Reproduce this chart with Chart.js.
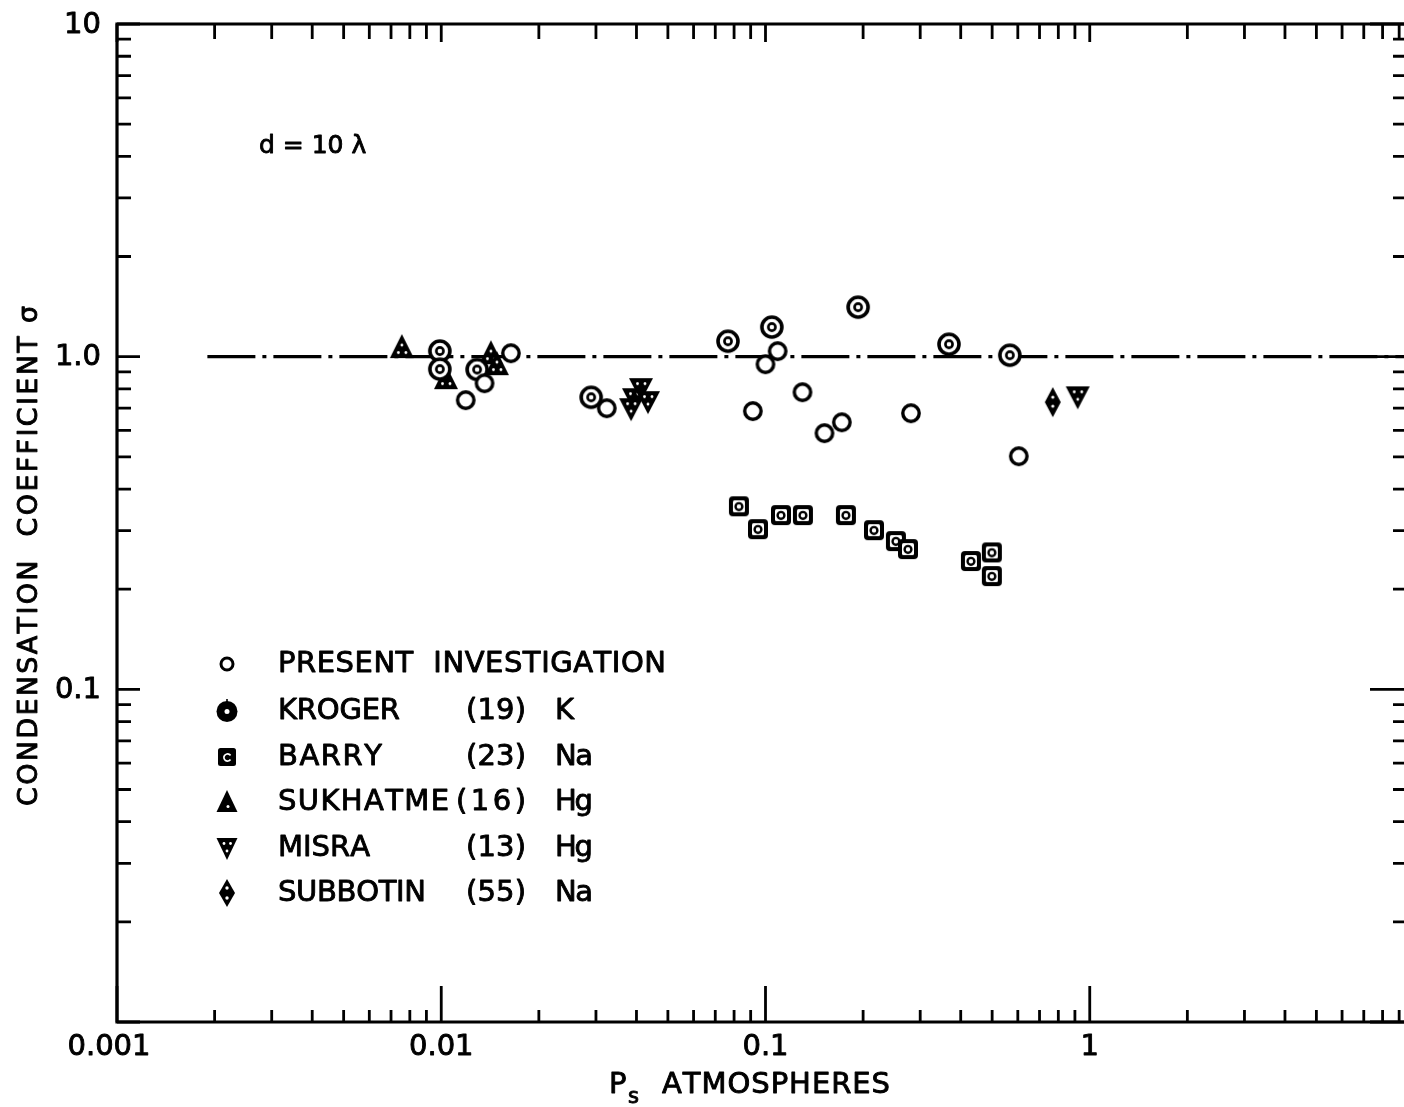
<!DOCTYPE html>
<html>
<head>
<meta charset="utf-8">
<script src="https://cdn.jsdelivr.net/npm/chart.js@4/dist/chart.umd.min.js"></script>
<style>
  html, body { margin: 0; padding: 0; background: #fff; overflow: hidden; }
  #wrap { position: absolute; left: 0; top: 0; width: 1404px; height: 1107px; overflow: hidden; }
  canvas { display: block; }
</style>
</head>
<body>
<div id="wrap"><canvas id="chart" width="1430" height="1107" style="width:1430px;height:1107px"></canvas></div>
<script>
// Condensation coefficient sigma vs. saturation pressure Ps (atm), d = 10 lambda
const presentP      = [0.0119, 0.0136, 0.0164, 0.0324, 0.0914, 0.100, 0.109, 0.130, 0.152, 0.172, 0.281, 0.604];
const presentSigma  = [0.740, 0.832, 1.024, 0.700, 0.686, 0.949, 1.039, 0.782, 0.589, 0.635, 0.676, 0.502];

const krogerP       = [0.0099, 0.0099, 0.0129, 0.0290, 0.0766, 0.1046, 0.193, 0.368, 0.567];
const krogerSigma   = [1.040, 0.917, 0.915, 0.755, 1.113, 1.227, 1.409, 1.090, 1.010];

const barryP        = [0.0828, 0.0948, 0.1116, 0.1304, 0.177, 0.216, 0.2525, 0.275, 0.430, 0.499, 0.499];
const barrySigma    = [0.355, 0.303, 0.334, 0.334, 0.334, 0.301, 0.279, 0.264, 0.243, 0.258, 0.219];

const sukhatmeP     = [0.00756, 0.01034, 0.01423, 0.01485];
const sukhatmeSigma = [1.061, 0.856, 1.017, 0.943];

const misraP        = [0.0413, 0.0393, 0.0434, 0.0385, 0.918];
const misraSigma    = [0.804, 0.750, 0.735, 0.700, 0.760];

const subbotinP     = [0.769];
const subbotinSigma = [0.730];

// reference line sigma = 1
const unityP     = [0.0019, 10];
const unitySigma = [1.0, 1.0];

// legend text columns
const legendNames    = ['PRESENT  INVESTIGATION', 'KROGER', 'BARRY', 'SUKHATME', 'MISRA', 'SUBBOTIN'];
const legendRefs     = ['', '(19)', '(23)', '(16)', '(13)', '(55)'];
const legendElements = ['', 'K', 'Na', 'Hg', 'Hg', 'Na'];

// tick labels
const xTickValues = [0.001, 0.01, 0.1, 1];
const xTickText   = ['0.001', '0.01', '0.1', '1'];
const yTickValues = [10, 1, 0.1];
const yTickText   = ['10', '1.0', '0.1'];

const FONT = '"DejaVu Sans", "Liberation Sans", sans-serif';

function pts(xs, ys) { return xs.map((v, i) => ({ x: v, y: ys[i] })); }

function glyph(size, draw) {
  const c = document.createElement('canvas');
  c.width = size; c.height = size;
  const g = c.getContext('2d');
  g.translate(size / 2, size / 2);
  draw(g);
  return c;
}

function roundRect(g, x, y, w, h, r) {
  g.beginPath();
  g.moveTo(x + r, y);
  g.arcTo(x + w, y, x + w, y + h, r);
  g.arcTo(x + w, y + h, x, y + h, r);
  g.arcTo(x, y + h, x, y, r);
  g.arcTo(x, y, x + w, y, r);
  g.closePath();
}

function specks(g, list, r) {
  g.fillStyle = '#fff';
  list.forEach(([sx, sy]) => { g.beginPath(); g.arc(sx, sy, r, 0, Math.PI * 2); g.fill(); });
}

// plot symbols
const symPresent = glyph(28, g => {
  g.beginPath(); g.arc(0, 0, 8.2, 0, Math.PI * 2);
  g.fillStyle = '#fff'; g.fill();
  g.lineWidth = 3.4; g.strokeStyle = '#000'; g.stroke();
});
const symKroger = glyph(30, g => {
  g.beginPath(); g.arc(0, 0, 10, 0, Math.PI * 2);
  g.fillStyle = '#fff'; g.fill();
  g.lineWidth = 3.6; g.strokeStyle = '#000'; g.stroke();
  g.beginPath(); g.arc(0, 0, 3.6, 0, Math.PI * 2);
  g.lineWidth = 2.6; g.stroke();
});
const symBarry = glyph(28, g => {
  roundRect(g, -10, -10, 20, 20, 4); g.fillStyle = '#000'; g.fill();
  roundRect(g, -6, -6, 12, 12, 1.5); g.fillStyle = '#fff'; g.fill();
  g.beginPath(); g.arc(0, 0.3, 3.4, 0, Math.PI * 2);
  g.lineWidth = 2.4; g.strokeStyle = '#000'; g.stroke();
});
const symSukhatme = glyph(32, g => {
  g.beginPath(); g.moveTo(0, -14); g.lineTo(12, 10); g.lineTo(-12, 10); g.closePath();
  g.fillStyle = '#000'; g.fill();
  specks(g, [[0, -3], [-3.5, 4.5], [4, 4.5]], 1.4);
});
const symMisra = glyph(32, g => {
  g.beginPath(); g.moveTo(0, 13); g.lineTo(12, -10); g.lineTo(-12, -10); g.closePath();
  g.fillStyle = '#000'; g.fill();
  specks(g, [[0, 3], [-3.5, -4.5], [4, -4.5]], 1.4);
});
const symSubbotin = glyph(34, g => {
  g.beginPath(); g.moveTo(0, -15); g.lineTo(8, 0); g.lineTo(0, 15); g.lineTo(-8, 0); g.closePath();
  g.fillStyle = '#000'; g.fill();
  specks(g, [[0, -5], [0, 4]], 1.6);
});

// legend symbols
const legendSymbols = [
  glyph(24, g => { g.beginPath(); g.arc(0, 0, 6, 0, Math.PI * 2); g.lineWidth = 3; g.strokeStyle = '#000'; g.stroke(); }),
  glyph(30, g => {
    g.beginPath(); g.arc(0, 0.5, 10.5, 0, Math.PI * 2); g.fillStyle = '#000'; g.fill();
    g.fillRect(-0.8, -12, 1.6, 3);
    specks(g, [[0, 0.5]], 2.5);
  }),
  glyph(28, g => {
    roundRect(g, -9, -9, 18, 18, 2.5); g.fillStyle = '#000'; g.fill();
    g.beginPath(); g.arc(0.5, 0.5, 3.6, 0.6, Math.PI * 2 - 0.6);
    g.lineWidth = 1.7; g.strokeStyle = '#fff'; g.stroke();
  }),
  glyph(30, g => {
    g.beginPath(); g.moveTo(0, -12); g.lineTo(10.5, 10); g.lineTo(-10.5, 10); g.closePath();
    g.fillStyle = '#000'; g.fill();
    specks(g, [[1, 4.5]], 1.5);
  }),
  glyph(30, g => {
    g.beginPath(); g.moveTo(0, 12); g.lineTo(10.5, -10); g.lineTo(-10.5, -10); g.closePath();
    g.fillStyle = '#000'; g.fill();
    specks(g, [[0, 3], [-3, -4.5], [3.5, -4.5]], 1.4);
  }),
  glyph(34, g => {
    g.beginPath(); g.moveTo(0, -14); g.lineTo(8, 0); g.lineTo(0, 14); g.lineTo(-8, 0); g.closePath();
    g.fillStyle = '#000'; g.fill();
    specks(g, [[0, -5], [0, 5]], 1.7);
  })
];

// filled and lightly stroked text, for a heavier pen line
function ink(ctx, text, x, y) {
  ctx.fillText(text, x, y);
  ctx.strokeText(text, x, y);
}

// draws a string spread over a given width
function spaced(ctx, text, x, y, width) {
  const chars = [...text];
  const ws = chars.map(ch => ctx.measureText(ch).width);
  const nat = ws.reduce((s, w) => s + w, 0);
  const gap = chars.length > 1 && width ? (width - nat) / (chars.length - 1) : 0;
  let cx = x;
  chars.forEach((ch, i) => { ink(ctx, ch, cx, y); cx += ws[i] + gap; });
}

function logTicks(min, max) {
  const out = [];
  for (let d = min; d < max * 1.001; d *= 10) {
    for (let k = 1; k <= 9; k++) {
      const v = k * d;
      if (v <= max * 1.0001) out.push({ v, major: k === 1 });
    }
  }
  return out;
}

const framePlugin = {
  id: 'frameAndLabels',
  afterDraw(chart) {
    const { ctx, chartArea: a } = chart;
    const xs = chart.scales.x, ys = chart.scales.y;
    ctx.save();
    ctx.strokeStyle = '#000';
    ctx.fillStyle = '#000';
    ctx.lineWidth = 3.2;
    ctx.lineCap = 'butt';

    // frame
    ctx.beginPath();
    ctx.rect(a.left, a.top, a.right - a.left, a.bottom - a.top);
    ctx.stroke();

    // inward ticks on all four sides
    ctx.lineWidth = 2.8;
    ctx.beginPath();
    logTicks(0.001, 10).forEach(t => {
      const px = xs.getPixelForValue(t.v);
      ctx.moveTo(px, a.bottom); ctx.lineTo(px, a.bottom - (t.major ? 36 : 12));
      ctx.moveTo(px, a.top);    ctx.lineTo(px, a.top + (t.major ? 18 : 15));
    });
    logTicks(0.01, 10).forEach(t => {
      const py = ys.getPixelForValue(t.v);
      ctx.moveTo(a.left, py);  ctx.lineTo(a.left + (t.major ? 23 : 14), py);
      ctx.moveTo(a.right, py); ctx.lineTo(a.right - (t.major ? 44 : 21), py);
    });
    ctx.stroke();

    ctx.lineWidth = 0.9;
    ctx.lineJoin = 'round';

    // tick labels
    ctx.font = '29px ' + FONT;
    ctx.textBaseline = 'middle';
    ctx.textAlign = 'center';
    xTickValues.forEach((v, i) => ink(ctx, xTickText[i], xs.getPixelForValue(v) - (i === 0 ? 8 : 0), 1047));
    ctx.textAlign = 'right';
    yTickValues.forEach((v, i) => ink(ctx, yTickText[i], 101, ys.getPixelForValue(v) + 1));

    // axis titles
    ctx.textAlign = 'left';
    ctx.font = '29px ' + FONT;
    ink(ctx, 'P', 609, 1085);
    ctx.font = '21px ' + FONT;
    ink(ctx, 's', 628, 1098);
    ctx.font = '29px ' + FONT;
    spaced(ctx, 'ATMOSPHERES', 662, 1085, 228);

    ctx.save();
    ctx.translate(30, 556);
    ctx.rotate(-Math.PI / 2);
    ctx.font = '27px ' + FONT;
    spaced(ctx, 'CONDENSATION  COEFFICIENT σ', -250, 0, 500);
    ctx.restore();

    // annotation
    ctx.font = '25px ' + FONT;
    ink(ctx, 'd = 10 λ', 259, 146);

    // legend
    const rowsY = [664, 711, 757, 802, 848, 893];
    const nameW = [388, 122, 104, 171, 92, 148];
    ctx.font = '29px ' + FONT;
    legendNames.forEach((name, i) => {
      const s = legendSymbols[i];
      ctx.drawImage(s, 227 - s.width / 2, rowsY[i] - s.height / 2);
      spaced(ctx, name, 278, rowsY[i], nameW[i]);
      if (legendRefs[i]) spaced(ctx, legendRefs[i], i === 3 ? 456 : 466, rowsY[i], i === 3 ? 70 : 60);
      if (legendElements[i]) spaced(ctx, legendElements[i], 555, rowsY[i], legendElements[i].length > 1 ? 38 : 0);
    });
    ctx.restore();
  }
};

const scatterSet = (label, xs, ys, sym) => ({
  label, data: pts(xs, ys), pointStyle: sym, pointRadius: 10, showLine: false, order: 1
});

new Chart(document.getElementById('chart'), {
  type: 'scatter',
  data: {
    datasets: [
      {
        type: 'line', label: 'sigma = 1', data: pts(unityP, unitySigma),
        borderColor: '#000', borderWidth: 3.2, borderDash: [48, 7, 4, 7],
        pointRadius: 0, fill: false, tension: 0, order: 10
      },
      scatterSet('PRESENT INVESTIGATION', presentP, presentSigma, symPresent),
      scatterSet('KROGER (19) K', krogerP, krogerSigma, symKroger),
      scatterSet('BARRY (23) Na', barryP, barrySigma, symBarry),
      scatterSet('SUKHATME (16) Hg', sukhatmeP, sukhatmeSigma, symSukhatme),
      scatterSet('MISRA (13) Hg', misraP, misraSigma, symMisra),
      scatterSet('SUBBOTIN (55) Na', subbotinP, subbotinSigma, symSubbotin)
    ]
  },
  options: {
    responsive: false,
    devicePixelRatio: 1,
    animation: false,
    events: [],
    layout: { padding: { left: 117, top: 24, right: 16, bottom: 85 } },
    scales: {
      x: { type: 'logarithmic', min: 0.001, max: 10, display: false },
      y: { type: 'logarithmic', min: 0.01, max: 10, display: false }
    },
    plugins: { legend: { display: false }, tooltip: { enabled: false } }
  },
  plugins: [framePlugin]
});
</script>
</body>
</html>
